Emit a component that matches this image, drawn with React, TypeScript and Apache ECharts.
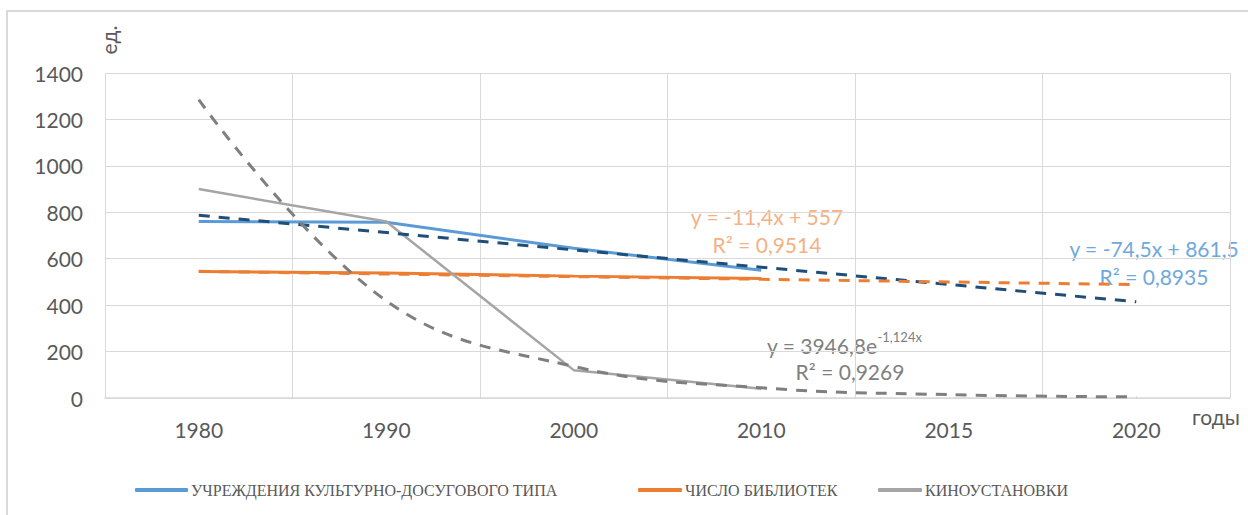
import React, { useEffect, useRef } from "react";
import * as echarts from "echarts";

const categories = ["1980", "1990", "2000", "2010", "2015", "2020"];
const culturalInstitutions = [760, 757, 645, 550, null, null];
const libraries = [545, 538, 525, 515, null, null];
const cinemas = [900, 760, 120, 40, null, null];
const culturalTrend = [787, 712.5, 638, 563.5, 489, 414.5];
const librariesTrend = [545.6, 534.2, 522.8, 511.4, 500, 488.6];
const cinemasTrend = [1285, 419, 136, 44, 14.5, 4.7];
const yTicks = { min: 0, max: 1400, interval: 200 };

const seriesNames = [
  "УЧРЕЖДЕНИЯ КУЛЬТУРНО-ДОСУГОВОГО ТИПА",
  "ЧИСЛО БИБЛИОТЕК",
  "КИНОУСТАНОВКИ",
];

const FONT = "Lato, 'Open Sans', sans-serif";

export default function App() {
  const ref = useRef<HTMLDivElement>(null);
  useEffect(() => {
    if (!ref.current) return;
    const chart = echarts.init(ref.current, null, { renderer: "svg" });
    const legendBase = {
      orient: "horizontal",
      top: 477,
      icon: "roundRect",
      itemHeight: 4,
      itemGap: 0,
      textStyle: {
        fontFamily: "'Liberation Serif', 'DejaVu Serif', serif",
        fontSize: 16,
        color: "#595959",
        padding: [0, 0, 0, -2],
      },
    };
    chart.setOption({
      animation: false,
      backgroundColor: "#ffffff",
      grid: { left: 105, top: 73, width: 1125, height: 325, containLabel: false },
      legend: [
        { ...legendBase, left: 130, itemWidth: 53, data: [seriesNames[0]] },
        { ...legendBase, left: 633, itemWidth: 44, data: [seriesNames[1]] },
        { ...legendBase, left: 873, itemWidth: 44, data: [seriesNames[2]] },
      ],
      xAxis: {
        type: "category",
        data: categories,
        boundaryGap: true,
        axisLine: { show: true, lineStyle: { color: "#D9D9D9", width: 1.5 } },
        axisTick: { show: false },
        axisLabel: { color: "#595959", fontSize: 21, fontFamily: FONT, margin: 21 },
        splitLine: { show: true, lineStyle: { color: "#D9D9D9", width: 1 } },
      },
      yAxis: {
        type: "value",
        min: yTicks.min,
        max: yTicks.max,
        interval: yTicks.interval,
        axisLine: { show: false },
        axisTick: { show: false },
        axisLabel: {
          color: "#595959",
          fontSize: 21,
          fontFamily: FONT,
          margin: 22,
          formatter: (v: number) => String(v),
        },
        splitLine: { lineStyle: { color: "#D9D9D9", width: 1 } },
      },
      series: [
        {
          name: seriesNames[0],
          type: "line",
          data: culturalInstitutions,
          symbol: "none",
          lineStyle: { color: "#5B9BD5", width: 3 },
          itemStyle: { color: "#5B9BD5" },
          z: 2,
        },
        {
          name: seriesNames[1],
          type: "line",
          data: libraries,
          symbol: "none",
          lineStyle: { color: "#ED7D31", width: 3 },
          itemStyle: { color: "#ED7D31" },
          z: 2,
        },
        {
          name: seriesNames[2],
          type: "line",
          data: cinemas,
          symbol: "none",
          lineStyle: { color: "#A5A5A5", width: 2.5 },
          itemStyle: { color: "#A5A5A5" },
          z: 2,
        },
        {
          name: "trend-cultural",
          type: "line",
          data: culturalTrend,
          symbol: "none",
          lineStyle: { color: "#1F4E79", width: 3, type: [11, 9] },
          z: 3,
        },
        {
          name: "trend-libraries",
          type: "line",
          data: librariesTrend,
          symbol: "none",
          lineStyle: { color: "#ED7D31", width: 3, type: [11, 9] },
          z: 3,
        },
        {
          name: "trend-cinemas",
          type: "line",
          data: cinemasTrend,
          symbol: "none",
          smooth: 0.4,
          lineStyle: { color: "#7F7F7F", width: 3, type: [11, 9] },
          z: 3,
        },
      ],
      graphic: [
        {
          type: "rect",
          shape: { x: 7, y: 11, width: 1300, height: 600 },
          style: { fill: "none", stroke: "#D9D9D9", lineWidth: 2 },
          silent: true,
          z: -10,
        },
        {
          type: "text",
          x: 108,
          y: 40,
          rotation: Math.PI / 2,
          style: {
            text: "ед.",
            fontSize: 21,
            fontFamily: FONT,
            fill: "#595959",
            align: "center",
            verticalAlign: "middle",
          },
        },
        {
          type: "text",
          x: 1192,
          y: 416,
          style: {
            text: "годы",
            fontSize: 21,
            fontFamily: FONT,
            fill: "#595959",
            align: "left",
            verticalAlign: "middle",
          },
        },
        {
          type: "text",
          x: 767,
          y: 216,
          style: {
            text: "y = -11,4x + 557",
            fontSize: 21,
            fontFamily: FONT,
            fill: "#F4B183",
            align: "center",
            verticalAlign: "middle",
          },
        },
        {
          type: "text",
          x: 767,
          y: 244,
          style: {
            text: "R² = 0,9514",
            fontSize: 21,
            fontFamily: FONT,
            fill: "#F4B183",
            align: "center",
            verticalAlign: "middle",
          },
        },
        {
          type: "text",
          x: 1154,
          y: 248,
          style: {
            text: "y = -74,5x + 861,5",
            fontSize: 21,
            fontFamily: FONT,
            fill: "#6FA8DC",
            align: "center",
            verticalAlign: "middle",
          },
        },
        {
          type: "text",
          x: 1154,
          y: 276,
          style: {
            text: "R² = 0,8935",
            fontSize: 21,
            fontFamily: FONT,
            fill: "#6FA8DC",
            align: "center",
            verticalAlign: "middle",
          },
        },
        {
          type: "text",
          x: 767,
          y: 343,
          style: {
            text: "{a|y = 3946,8e}{s|-1,124x}",
            align: "left",
            verticalAlign: "middle",
            rich: {
              a: { fontSize: 21, fontFamily: FONT, fill: "#808080", lineHeight: 26, verticalAlign: "bottom" },
              s: { fontSize: 13, fontFamily: FONT, fill: "#808080", lineHeight: 15, verticalAlign: "top" },
            },
          },
        },
        {
          type: "text",
          x: 850,
          y: 371,
          style: {
            text: "R² = 0,9269",
            fontSize: 21,
            fontFamily: FONT,
            fill: "#808080",
            align: "center",
            verticalAlign: "middle",
          },
        },
      ],
    });
    return () => chart.dispose();
  }, []);
  return (
    <div
      ref={ref}
      style={{ position: "fixed", left: 0, top: 0, width: 1248, height: 515, background: "#fff" }}
    />
  );
}
